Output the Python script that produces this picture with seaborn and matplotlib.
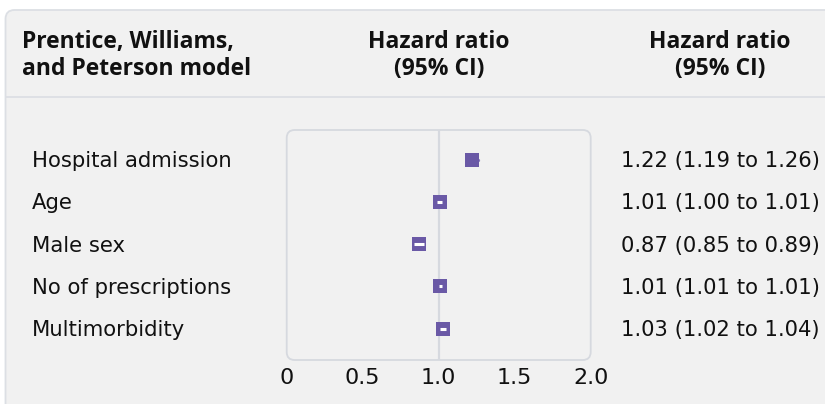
import numpy as np
import pandas as pd
import matplotlib
matplotlib.use("Agg")
import matplotlib.pyplot as plt
import seaborn as sns
from matplotlib.patches import FancyBboxPatch
from matplotlib.lines import Line2D
from matplotlib.transforms import IdentityTransform, blended_transform_factory

# ---------------- data ----------------
variables = ["Hospital admission", "Age", "Male sex", "No of prescriptions", "Multimorbidity"]
hr = [1.22, 1.01, 0.87, 1.01, 1.03]
ci_low = [1.19, 1.00, 0.85, 1.01, 1.02]
ci_high = [1.26, 1.01, 0.89, 1.01, 1.04]
x_ticks = [0, 0.5, 1.0, 1.5, 2.0]
x_tick_labels = ["0", "0.5", "1.0", "1.5", "2.0"]
minor_ticks = [0.5, 1.0, 1.5]
header_left = ["Prentice, Williams,", "and Peterson model"]
header_hr = ["Hazard ratio", "(95% CI)"]

df = pd.DataFrame({"variable": variables, "hr": hr, "lo": ci_low, "hi": ci_high})
df["row"] = np.arange(len(df))
df["label"] = [f"{h:.2f} ({l:.2f} to {u:.2f})" for h, l, u in zip(hr, ci_low, ci_high)]

# ---------------- style ----------------
sns.set_style("white")
plt.rcParams["font.family"] = ["DejaVu Sans"]

BG = "#f1f1f1"
BORDER = "#dcdfe4"
GRID = "#d6d9df"
PURPLE = "#6a59a6"
TEXT = "#111111"

W, H = 825, 404
fig = plt.figure(figsize=(8.25, 4.04), dpi=100, facecolor="white")


def py(y):
    return H - y


ident = IdentityTransform()

# outer panel
panel = FancyBboxPatch((5.5, -40), 900, py(10) + 40,
                       boxstyle="round,pad=0,rounding_size=9",
                       transform=ident, fc=BG, ec=BORDER, lw=1.3, zorder=-3)
fig.add_artist(panel)
fig.add_artist(Line2D([5.5, 900], [py(96.5), py(96.5)], transform=ident,
                      color=BORDER, lw=1.3, zorder=-2))

# plot axes
x0, x1 = 286.7, 590.7
ytop, ybot = 130, 360
ax = fig.add_axes([x0 / W, 1 - ybot / H, (x1 - x0) / W, (ybot - ytop) / H])
ax.patch.set_visible(False)
for s in ax.spines.values():
    s.set_visible(False)

box = FancyBboxPatch((x0, py(ybot)), x1 - x0, ybot - ytop,
                     boxstyle="round,pad=0,rounding_size=8",
                     transform=ident, fc=BG, ec=GRID, lw=1.3, zorder=-1)
fig.add_artist(box)

ax.set_xlim(0, 2)
ax.set_ylim(4.74, -0.70)
ax.axvline(1.0, color=GRID, lw=1.6, zorder=1)

px_per_unit = (x1 - x0) / 2
box_w = 11 / px_per_unit
inside = (df["hi"] - df["lo"]) < box_w * 0.85
out = df[~inside]
ins = df[inside]
lc = ax.hlines(out["row"], out["lo"], out["hi"], color=PURPLE, lw=2.4, alpha=0.8, zorder=2)
lc.set_capstyle("round")

sns.scatterplot(data=df, x="hr", y="row", marker="s", s=96, color=PURPLE,
                linewidth=0, ax=ax, zorder=3, legend=False)

cap_pad = 1.6 / px_per_unit
ax.hlines(ins["row"], ins["lo"] - cap_pad, ins["hi"] + cap_pad, color="white", lw=2.2, zorder=4)

ax.set_xlabel("")
ax.set_ylabel("")
ax.set_yticks([])
ax.set_xticks(x_ticks, x_tick_labels)
ax.set_xticks(minor_ticks, minor=True)
ax.tick_params(axis="x", which="major", length=0, pad=6, labelsize=16,
               labelcolor=TEXT, labelfontfamily="DejaVu Sans")
ax.tick_params(axis="x", which="minor", length=7, width=1.6, color=GRID, direction="in")

# row texts
row_px = (ybot - ytop) / (4.74 + 0.70)
base_off = 7.5 / row_px
tr = blended_transform_factory(fig.transFigure, ax.transData)
for _, r in df.iterrows():
    fig.text(32 / W, r["row"] + base_off, r["variable"], transform=tr,
             ha="left", va="baseline", fontsize=15.2, color=TEXT)
    fig.text(820 / W, r["row"] + base_off, r["label"], transform=tr,
             ha="right", va="baseline", fontsize=15.2, color=TEXT)

# headers
hfont = dict(fontsize=16.5, fontweight="bold", color=TEXT, family=["Open Sans", "DejaVu Sans"])
for i, yb in enumerate([48, 75]):
    fig.text(22 / W, 1 - yb / H, header_left[i], ha="left", va="baseline", **hfont)
    fig.text(439 / W, 1 - yb / H, header_hr[i], ha="center", va="baseline", **hfont)
    fig.text(720 / W, 1 - yb / H, header_hr[i], ha="center", va="baseline", **hfont)

fig.savefig("out.png", dpi=100, facecolor="white")
